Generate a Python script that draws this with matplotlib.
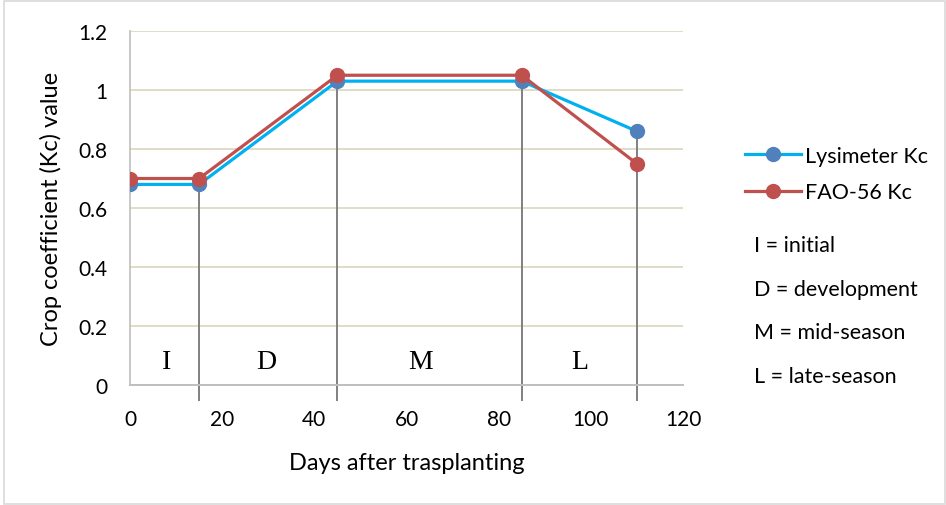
import matplotlib.pyplot as plt
from matplotlib.patches import Rectangle

plt.rcParams['font.family'] = ['Lato', 'DejaVu Sans']

# Kc por estágio (dias após o transplante)
dias = [0, 15, 45, 85, 110]
kc_lisimetro = [0.68, 0.68, 1.03, 1.03, 0.86]
kc_fao56 = [0.70, 0.70, 1.05, 1.05, 0.75]

estagios = ['I', 'D', 'M', 'L']
estagios_x = [8, 29.5, 63, 97.5]
legenda_estagios = ['I = initial', 'D = development', 'M = mid-season', 'L = late-season']

W, H = 946, 506
fig = plt.figure(figsize=(W / 100, H / 100), dpi=100)
ax = fig.add_axes([130 / W, 1 - 386 / H, 553 / W, 354 / H])

# Moldura externa
fig.patches.append(Rectangle((4 / W, 1 / H), 941 / W, 503 / H,
                             transform=fig.transFigure, fill=False,
                             edgecolor='#d9d9d9', linewidth=1.2))

# Linhas verticais de divisão dos estágios (do ponto até abaixo do eixo)
for x, y1, y2 in zip(dias[1:], kc_lisimetro[1:], kc_fao56[1:]):
    ax.plot([x, x], [-0.05, max(y1, y2)], color='#808080', lw=1.4,
            zorder=2, clip_on=False)

ax.plot(dias, kc_lisimetro, '-o', color='#00B0F0', mfc='#4F81BD', mec='#4F81BD',
        lw=2.3, ms=10, label='Lysimeter Kc', zorder=3)
ax.plot(dias, kc_fao56, '-o', color='#C0504D', mfc='#C0504D', mec='#C0504D',
        lw=2.3, ms=10, label='FAO-56 Kc', zorder=4)

for s, x in zip(estagios, estagios_x):
    ax.text(x, 0.08, s, family='Liberation Serif', fontsize=20,
            ha='center', va='center')

ax.set_xlim(0, 120)
ax.set_ylim(0, 1.2)
ax.set_xticks(range(0, 121, 20))
ax.set_yticks([0, 0.2, 0.4, 0.6, 0.8, 1, 1.2])
ax.set_yticklabels(['0', '0.2', '0.4', '0.6', '0.8', '1', '1.2'])
ax.tick_params(length=0, labelsize=15)
ax.tick_params(axis='y', pad=16)
ax.tick_params(axis='x', pad=17)
ax.grid(axis='y', color='#ddd9c3', lw=1.3)
ax.set_axisbelow(True)
for lado in ['top', 'right']:
    ax.spines[lado].set_visible(False)
ax.spines['left'].set_color('#bfbfbf')
ax.spines['bottom'].set_color('#bfbfbf')
ax.spines['left'].set_linewidth(1.2)
ax.spines['bottom'].set_linewidth(1.4)

ax.set_xlabel('Days after trasplanting', fontsize=17, labelpad=17)
ax.set_ylabel('Crop coefficient (Kc) value', fontsize=17, labelpad=12)

fig.legend(loc='center left', bbox_to_anchor=(734 / W, 1 - 175 / H),
           frameon=False, fontsize=15.5, handlelength=2.6, labelspacing=0.75,
           handletextpad=0.2, borderpad=0)

for i, t in enumerate(legenda_estagios):
    fig.text(754 / W, 1 - (246 + i * 43.7) / H, t, fontsize=15.5, va='center')

fig.savefig('out.png', dpi=100)
